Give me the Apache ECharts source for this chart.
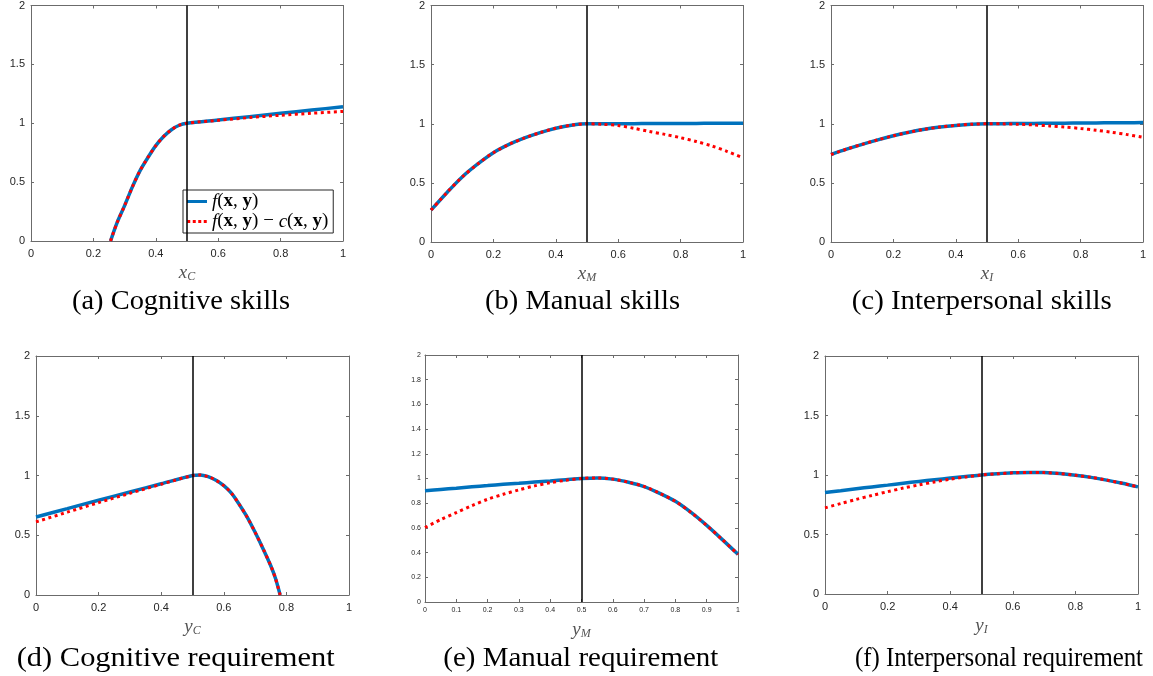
<!DOCTYPE html>
<html>
<head>
<meta charset="utf-8">
<script src="https://cdn.jsdelivr.net/npm/echarts@6/dist/echarts.min.js"></script>
<style>html,body{margin:0;padding:0;background:#fff}#c{width:1153px;height:676px}</style>
</head>
<body>
<div id="c"></div>
<script>
// ---- Data ----
const threshold = 0.5;

// (a) Cognitive skills
const aX  = [0.255,0.275,0.3,0.325,0.35,0.375,0.4,0.425,0.45,0.475,0.5,0.6,0.7,0.8,0.9,1.0];
const aF  = [0,0.15,0.3,0.46,0.6,0.71,0.81,0.887,0.945,0.983,1.0,1.028,1.056,1.084,1.112,1.14];
const aFC = [0,0.15,0.3,0.46,0.6,0.71,0.81,0.887,0.945,0.983,1.0,1.025,1.048,1.068,1.085,1.10];

// shared x grid for b, c, e, f
const gX = [0,0.05,0.1,0.15,0.2,0.25,0.3,0.35,0.4,0.45,0.5,0.55,0.6,0.65,0.7,0.75,0.8,0.85,0.9,0.95,1];

// (b) Manual skills
const bF  = [0.27,0.415,0.55,0.66,0.755,0.825,0.88,0.925,0.962,0.988,1.0,1.0,1.001,1.001,1.002,1.002,1.003,1.003,1.004,1.004,1.005];
const bFC = [0.27,0.415,0.55,0.66,0.755,0.825,0.88,0.925,0.962,0.988,1.0,0.995,0.985,0.962,0.935,0.91,0.882,0.85,0.812,0.765,0.712];

// (c) Interpersonal skills
const cF  = [0.74,0.785,0.826,0.864,0.898,0.928,0.953,0.972,0.986,0.996,1.0,1.001,1.002,1.003,1.004,1.005,1.006,1.007,1.008,1.009,1.01];
const cFC = [0.74,0.785,0.826,0.864,0.898,0.928,0.953,0.972,0.986,0.996,1.0,0.999,0.996,0.99,0.982,0.972,0.96,0.945,0.928,0.908,0.885];

// (d) Cognitive requirement
const dX  = [0,0.1,0.2,0.3,0.4,0.5,0.525,0.55,0.575,0.6,0.625,0.65,0.675,0.7,0.725,0.75,0.765,0.78];
const dF  = [0.653,0.723,0.793,0.862,0.931,1.0,1.005,0.99,0.96,0.915,0.85,0.755,0.65,0.525,0.39,0.245,0.14,0];
const dFC = [0.612,0.693,0.773,0.851,0.927,1.0,1.005,0.99,0.96,0.915,0.85,0.755,0.65,0.525,0.39,0.245,0.14,0];

// (e) Manual requirement
const eF  = [0.9,0.911,0.922,0.933,0.943,0.953,0.962,0.971,0.98,0.99,1.0,1.005,0.995,0.97,0.935,0.88,0.815,0.725,0.62,0.505,0.386];
const eFC = [0.603,0.667,0.724,0.78,0.832,0.872,0.908,0.94,0.966,0.986,1.0,1.005,0.995,0.97,0.935,0.88,0.815,0.725,0.62,0.505,0.386];

// (f) Interpersonal requirement
const fF  = [0.853,0.868,0.884,0.9,0.915,0.931,0.946,0.96,0.974,0.987,1.0,1.01,1.018,1.022,1.02,1.012,0.998,0.98,0.957,0.93,0.9];
const fFC = [0.724,0.76,0.795,0.828,0.86,0.89,0.917,0.942,0.965,0.984,1.0,1.01,1.018,1.022,1.02,1.012,0.998,0.98,0.957,0.93,0.9];

const captions = ['(a) Cognitive skills','(b) Manual skills','(c) Interpersonal skills',
                  '(d) Cognitive requirement','(e) Manual requirement','(f) Interpersonal requirement'];
const axisVars = [['x','C'],['x','M'],['x','I'],['y','C'],['y','M'],['y','I']];

// ---- Layout ----
const panels = [
  {x:aX, f:aF, fc:aFC, grid:{left:31, top:3, width:312, height:238}, xi:0.2, yi:0.5, fs:11, cap:[181,302,218]},
  {x:gX, f:bF, fc:bFC, grid:{left:431, top:3, width:312, height:239}, xi:0.2, yi:0.5, fs:11, cap:[582.5,302,195]},
  {x:gX, f:cF, fc:cFC, grid:{left:831, top:3, width:312, height:239}, xi:0.2, yi:0.5, fs:11, cap:[981.7,302,260]},
  {x:dX, f:dF, fc:dFC, grid:{left:36, top:356, width:313, height:239}, xi:0.2, yi:0.5, fs:11, cap:[175.7,659,318]},
  {x:gX, f:eF, fc:eFC, grid:{left:425, top:355, width:313, height:247}, xi:0.1, yi:0.2, fs:7, cap:[580.8,659,275]},
  {x:gX, f:fF, fc:fFC, grid:{left:825, top:356, width:313, height:238}, xi:0.2, yi:0.5, fs:11, cap:[999,659,288]}
];

const AX = '#6b6b6b', TXT = '#262626', SERIF = '"Liberation Serif", serif', SANS = '"Liberation Sans", Arial, sans-serif';
const CAP_FONT = 28;
const measureCtx = document.createElement('canvas').getContext('2d');
measureCtx.font = CAP_FONT + 'px "Liberation Serif", serif';

const grids = [], xAxes = [], yAxes = [], series = [], graphics = [];

panels.forEach((p, i) => {
  grids.push(Object.assign({containLabel:false}, p.grid));
  const common = {
    type:'value', gridIndex:i, min:0,
    axisLine:{show:true, onZero:false, lineStyle:{color:AX, width:1}},
    axisTick:{show:true, inside:true, length:3, lineStyle:{color:AX, width:1}},
    splitLine:{show:false}
  };
  const nm = axisVars[i];
  xAxes.push(Object.assign({}, common, {
    max:1, interval:p.xi, position:'bottom',
    axisLabel:{color:TXT, fontSize:p.fs, fontFamily:SANS, margin:p.fs>8?7:5},
    name:'{v|' + nm[0] + '}{s|' + nm[1] + '}', nameLocation:'middle', nameGap: i===4 ? 17 : 21,
    nameTextStyle:{rich:{
      v:{fontFamily:SERIF, fontStyle:'italic', fontSize:19, color:'#555'},
      s:{fontFamily:SERIF, fontStyle:'italic', fontSize:12, color:'#555', padding:[9,0,0,0]}
    }}
  }));
  xAxes.push(Object.assign({}, common, {max:1, interval:p.xi, position:'top', axisLabel:{show:false}}));
  yAxes.push(Object.assign({}, common, {
    max:2, interval:p.yi, position:'left',
    axisLabel:{color:TXT, fontSize:p.fs, fontFamily:SANS, margin:p.fs>8?6:4}
  }));
  yAxes.push(Object.assign({}, common, {max:2, interval:p.yi, position:'right', axisLabel:{show:false}}));

  series.push({
    type:'line', name:'f', xAxisIndex:2*i, yAxisIndex:2*i,
    data:p.x.map((v,k)=>[v,p.f[k]]), symbol:'none', showSymbol:false, smooth:0.3, clip:true,
    lineStyle:{color:'#0072BD', width:3.5}, itemStyle:{color:'#0072BD'}, z:3,
    markLine:{silent:true, symbol:['none','none'], label:{show:false}, animation:false,
      lineStyle:{color:'#000', width:1.5, type:'solid'}, data:[{xAxis:threshold}]}
  });
  series.push({
    type:'line', name:'fc', xAxisIndex:2*i, yAxisIndex:2*i,
    data:p.x.map((v,k)=>[v,p.fc[k]]), symbol:'none', showSymbol:false, smooth:0.3, clip:true,
    lineStyle:{color:'#FF0000', width:3, type:[3,3.5], cap:'butt'}, itemStyle:{color:'#FF0000'}, z:4
  });

  const w = measureCtx.measureText(captions[i]).width || p.cap[2];
  graphics.push({type:'text', x:p.cap[0], y:p.cap[1], scaleX: p.cap[2] / w, style:{
    text:captions[i], fontFamily:SERIF, fontSize:CAP_FONT, fill:'#000', align:'center', verticalAlign:'middle'}});
});

const rich = {
  i:{fontFamily:SERIF, fontStyle:'italic', fontSize:19, color:'#000', lineHeight:20},
  n:{fontFamily:SERIF, fontSize:19, color:'#000', lineHeight:20},
  b:{fontFamily:SERIF, fontWeight:'bold', fontSize:19, color:'#000', lineHeight:20}
};

const chart = echarts.init(document.getElementById('c'), null, {renderer:'canvas'});
chart.setOption({
  animation:false,
  backgroundColor:'#fff',
  grid:grids, xAxis:xAxes, yAxis:yAxes, series:series,
  legend:{
    data:[
      {name:'f', icon:'path://M0,0H20V3H0Z'},
      {name:'fc', icon:'path://M0,0H3V3H0Z M5.5,0H8.5V3H5.5Z M11,0H14V3H11Z M16.5,0H19.5V3H16.5Z'}
    ],
    orient:'vertical', left:183, top:190,
    backgroundColor:'#fff', borderColor:'#262626', borderWidth:1, borderRadius:0,
    padding:[2,5,2,4], itemWidth:20, itemHeight:3, itemGap:1, selectedMode:false,
    formatter: n => n === 'f'
      ? '{i|f}{n|(}{b|x}{n|, }{b|y}{n|)}'
      : '{i|f}{n|(}{b|x}{n|, }{b|y}{n|) − }{i|c}{n|(}{b|x}{n|, }{b|y}{n|)}',
    textStyle:{rich:rich}
  },
  graphic:graphics
});
</script>
</body>
</html>
